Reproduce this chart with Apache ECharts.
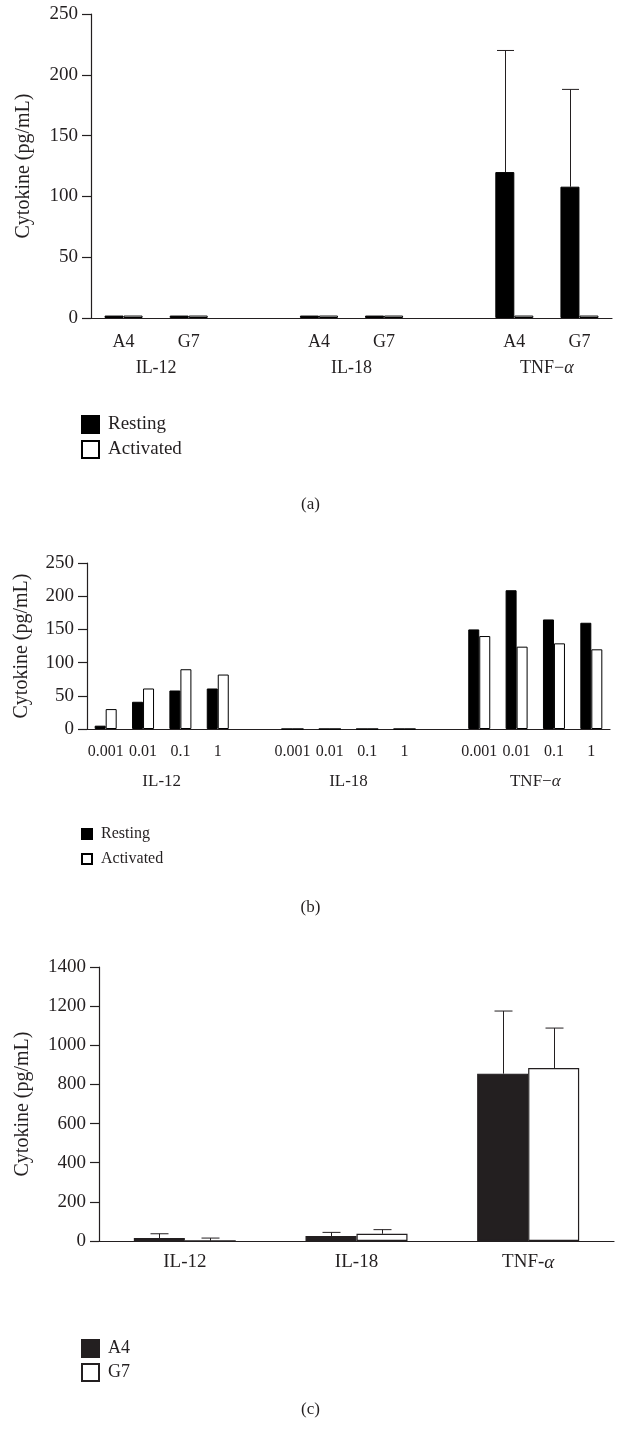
<!DOCTYPE html>
<html>
<head>
<meta charset="utf-8">
<script src="https://cdn.jsdelivr.net/npm/echarts@6/dist/echarts.min.js"></script>
<style>
  body { margin: 0; background: #fff; }
  #main { width: 621px; height: 1433px; }
</style>
</head>
<body>
<div id="main"></div>
<script>
// panel (a): resting vs activated, per clone
var cytokinesA = ['IL-12', 'IL-18', 'TNF−α']
var clonesA = ['A4', 'G7']
var restingA = [2, 2, 2, 2, 120, 108]
var activatedA = [2, 2, 2, 2, 2, 2]
var restingErrA = [null, null, null, null, 220, 188]

// panel (b): dose series
var cytokinesB = ['IL-12', 'IL-18', 'TNF−α']
var dosesB = ['0.001', '0.01', '0.1', '1']
var restingB = [5, 41, 58, 61, 0, 0, 0, 0, 150, 209, 165, 160]
var activatedB = [30, 61, 90, 82, 0, 0, 0, 0, 140, 124, 129, 120]

// panel (c): A4 vs G7
var cytokinesC = ['IL-12', 'IL-18', 'TNF-α']
var a4C = [15, 25, 855]
var a4ErrC = [37, 44, 1175]
var g7C = [1, 37, 884]
var g7ErrC = [15, 58, 1088]

var ink = '#231f20'
var font = '"Liberation Serif", "DejaVu Serif", serif'

// spread grouped values into slots with an empty slot between groups
function slots(perGroup, nGroups, fill) {
  var out = []
  for (var g = 0; g < nGroups; g++) {
    for (var i = 0; i < perGroup.length; i++) out.push(fill ? fill(g, i) : perGroup[i])
    if (g < nGroups - 1) out.push(null)
  }
  return out
}
function slotValues(vals, per, nGroups) {
  return slots(new Array(per), nGroups, function (g, i) { return vals[g * per + i] })
}
// group names sit on the boundary between slots (boundaryGap false axis)
function groupBoundaryLabels(names, per) {
  var n = names.length * per + (names.length - 1) + 1
  var out = []
  for (var k = 0; k < n; k++) out.push('')
  names.forEach(function (nm, g) { out[g * (per + 1) + per / 2] = nm })
  return out
}
function errData(means, errs, per, nGroups) {
  var out = []
  var idx = 0
  for (var g = 0; g < nGroups; g++) {
    for (var i = 0; i < per; i++) {
      if (errs[idx] != null) out.push([g * (per + 1) + i, means[idx], errs[idx]])
      idx++
    }
  }
  return out
}
function errRender(offset, capW) {
  return function (params, api) {
    var p0 = api.coord([api.value(0), api.value(1)])
    var p1 = api.coord([api.value(0), api.value(2)])
    var cx = Math.round(p0[0] + offset) + 0.5
    var st = { stroke: ink, lineWidth: 1 }
    return {
      type: 'group',
      children: [
        { type: 'line', shape: { x1: cx, y1: p0[1], x2: cx, y2: p1[1] }, style: st },
        { type: 'line', shape: { x1: cx - capW / 2, y1: p1[1], x2: cx + capW / 2, y2: p1[1] }, style: st }
      ]
    }
  }
}
function tnfFmt(v) { return v.replace('α', '{i|α}') }
function rich(fs) { return { i: { fontStyle: 'italic', fontFamily: font, fontSize: fs, color: ink } } }

function yAxis(grid, max, interval, fs, gap) {
  return {
    gridIndex: grid, type: 'value', min: 0, max: max, interval: interval,
    name: 'Cytokine (pg/mL)', nameLocation: 'middle', nameGap: gap,
    nameTextStyle: { fontFamily: font, fontSize: 20, color: ink },
    axisLine: { show: true, lineStyle: { color: ink, width: 1.2 } },
    axisTick: { show: true, length: 9, lineStyle: { color: ink, width: 1.2 } },
    axisLabel: { fontFamily: font, fontSize: fs, color: ink, margin: 13, formatter: function (v) { return String(v) } },
    splitLine: { show: false }
  }
}
function legend(top, size, gap, fs, names) {
  return {
    orient: 'vertical', left: 81, top: top, padding: 0, icon: 'rect',
    itemWidth: size, itemHeight: size, itemGap: gap,
    selectedMode: false, data: names,
    textStyle: { fontFamily: font, fontSize: fs, color: ink, padding: [0, 0, 0, 4] }
  }
}

var catsA = slots(clonesA, cytokinesA.length)
var catsB = slots(dosesB, cytokinesB.length)
var nA = clonesA.length, nB = dosesB.length

var option = {
  animation: false,
  backgroundColor: '#fff',
  textStyle: { fontFamily: font },
  grid: [
    { left: 91, top: 14, width: 521, height: 304, outerBoundsMode: 'none' },
    { left: 87, top: 563, width: 523, height: 166, outerBoundsMode: 'none' },
    { left: 99, top: 967, width: 515, height: 274, outerBoundsMode: 'none' }
  ],
  xAxis: [
    {
      gridIndex: 0, type: 'category', position: 'bottom', data: catsA.map(function (c) { return c || '' }),
      axisLine: { lineStyle: { color: ink, width: 1.2 } }, axisTick: { show: false },
      axisLabel: { interval: 0, fontFamily: font, fontSize: 18, color: ink, margin: 15 }
    },
    {
      gridIndex: 0, type: 'category', position: 'bottom', boundaryGap: false, data: groupBoundaryLabels(cytokinesA, nA),
      axisLine: { show: false }, axisTick: { show: false },
      axisLabel: { interval: 0, fontFamily: font, fontSize: 18, color: ink, margin: 41, formatter: tnfFmt, rich: rich(18) }
    },
    {
      gridIndex: 1, type: 'category', position: 'bottom', data: catsB.map(function (c) { return c || '' }),
      axisLine: { lineStyle: { color: ink, width: 1.2 } }, axisTick: { show: false },
      axisLabel: { interval: 0, fontFamily: font, fontSize: 16, color: ink, margin: 15 }
    },
    {
      gridIndex: 1, type: 'category', position: 'bottom', boundaryGap: false, data: groupBoundaryLabels(cytokinesB, nB),
      axisLine: { show: false }, axisTick: { show: false },
      axisLabel: { interval: 0, fontFamily: font, fontSize: 17, color: ink, margin: 44, formatter: tnfFmt, rich: rich(17) }
    },
    {
      gridIndex: 2, type: 'category', position: 'bottom', data: cytokinesC,
      axisLine: { lineStyle: { color: ink, width: 1.2 } }, axisTick: { show: false },
      axisLabel: { interval: 0, fontFamily: font, fontSize: 19, color: ink, margin: 12, formatter: tnfFmt, rich: rich(19) }
    }
  ],
  yAxis: [
    yAxis(0, 250, 50, 19, 57),
    yAxis(1, 250, 50, 19, 55),
    yAxis(2, 1400, 200, 19, 66)
  ],
  legend: [
    legend(415, 17, 6, 19, ['Resting', 'Activated']),
    legend(826, 10, 9, 16, ['Resting', 'Activated']),
    legend(1339, 17, 5, 18, ['A4', 'G7'])
  ],
  graphic: [
    { type: 'text', left: 'center', top: 496, style: { text: '(a)', font: '17px ' + font, fill: ink } },
    { type: 'text', left: 'center', top: 899, style: { text: '(b)', font: '17px ' + font, fill: ink } },
    { type: 'text', left: 'center', top: 1401, style: { text: '(c)', font: '17px ' + font, fill: ink } }
  ],
  series: [
    {
      name: 'Resting', type: 'bar', xAxisIndex: 0, yAxisIndex: 0, barWidth: 19, barGap: 0,
      itemStyle: { color: '#000', borderColor: '#000', borderWidth: 1 },
      data: slotValues(restingA, nA, cytokinesA.length)
    },
    {
      name: 'Activated', type: 'bar', xAxisIndex: 0, yAxisIndex: 0, barWidth: 19, barGap: 0,
      itemStyle: { color: '#fff', borderColor: '#000', borderWidth: 1 },
      data: slotValues(activatedA, nA, cytokinesA.length)
    },
    {
      name: 'errA', type: 'custom', xAxisIndex: 0, yAxisIndex: 0, z: 1,
      renderItem: errRender(-9.5, 17), data: errData(restingA, restingErrA, nA, cytokinesA.length)
    },
    {
      name: 'Resting', type: 'bar', xAxisIndex: 2, yAxisIndex: 1, barWidth: 11, barGap: 0,
      itemStyle: { color: '#000', borderColor: '#000', borderWidth: 1 },
      data: slotValues(restingB, nB, cytokinesB.length)
    },
    {
      name: 'Activated', type: 'bar', xAxisIndex: 2, yAxisIndex: 1, barWidth: 11, barGap: 0,
      itemStyle: { color: '#fff', borderColor: '#000', borderWidth: 1 },
      data: slotValues(activatedB, nB, cytokinesB.length)
    },
    {
      name: 'A4', type: 'bar', xAxisIndex: 4, yAxisIndex: 2, barWidth: 51, barGap: 0,
      itemStyle: { color: ink, borderColor: ink, borderWidth: 1.2 },
      data: a4C
    },
    {
      name: 'G7', type: 'bar', xAxisIndex: 4, yAxisIndex: 2, barWidth: 51, barGap: 0,
      itemStyle: { color: '#fff', borderColor: ink, borderWidth: 1.2 },
      data: g7C
    },
    {
      name: 'errC1', type: 'custom', xAxisIndex: 4, yAxisIndex: 2, z: 1,
      renderItem: errRender(-25.5, 18),
      data: a4C.map(function (v, i) { return [i, v, a4ErrC[i]] })
    },
    {
      name: 'errC2', type: 'custom', xAxisIndex: 4, yAxisIndex: 2, z: 1,
      renderItem: errRender(25.5, 18),
      data: g7C.map(function (v, i) { return [i, v, g7ErrC[i]] })
    }
  ]
}

var myChart = echarts.init(document.getElementById('main'))
myChart.setOption(option)
</script>
</body>
</html>
